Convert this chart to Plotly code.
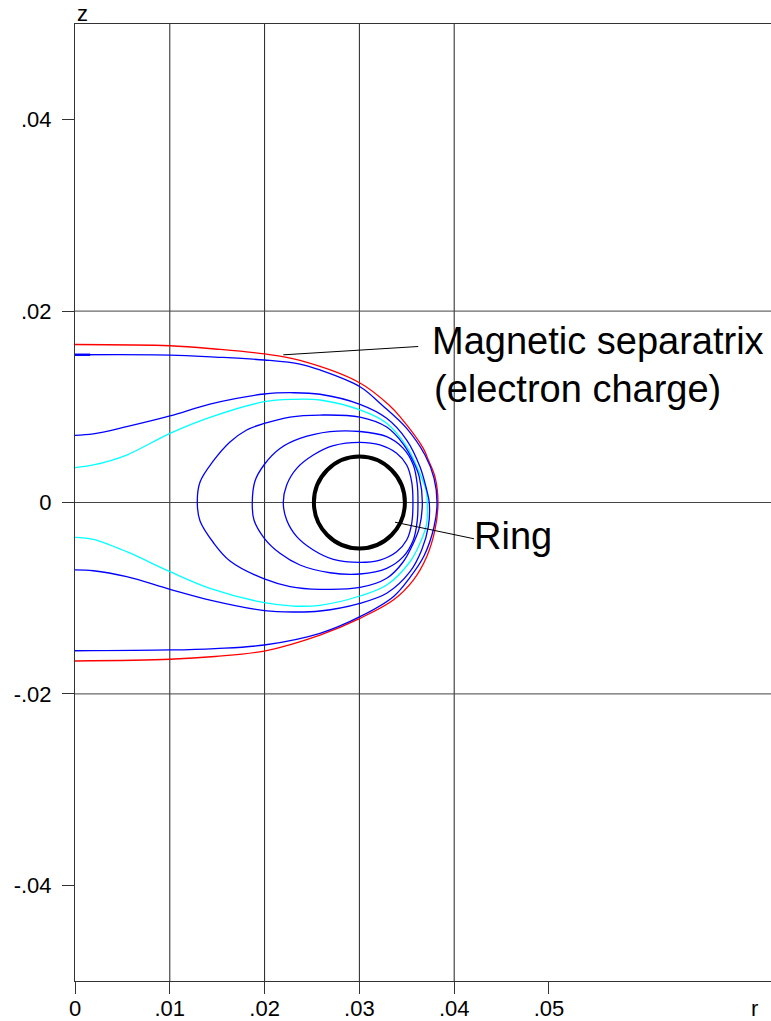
import plotly.graph_objects as go

# ---- flux lines around a current ring (r, z in metres) ----
# Magnetic separatrix (electron charge), red
sep_r = [0.0, 0.01002, 0.01477, 0.01997, 0.02373, 0.03006, 0.03312, 0.03428, 0.03674, 0.03727, 0.03797, 0.03829,
         0.03797, 0.0371, 0.03569, 0.03358, 0.03006, 0.02584, 0.01997, 0.01477, 0.01002, 0.0]
sep_z = [0.01651, 0.01638, 0.01604, 0.01552, 0.01484, 0.01249, 0.01019, 0.00897, 0.00566, 0.00444, 0.0027, 0.0,
         -0.00287, -0.00566, -0.0081, -0.01019, -0.0121, -0.01385, -0.01552, -0.01609, -0.01638, -0.01656]

# outer open field line, blue
outer_r = [0.0, 0.01002, 0.01477, 0.01997, 0.02373, 0.02584, 0.03006, 0.03238, 0.03499, 0.03692, 0.03787, 0.03819,
           0.03787, 0.03681, 0.03534, 0.03358, 0.03006, 0.02584, 0.01997, 0.01477, 0.01002, 0.0]
outer_z = [0.01544, 0.01541, 0.0152, 0.01489, 0.01447, 0.01385, 0.0121, 0.01019, 0.00775, 0.00496, 0.00256, 0.0,
           -0.00256, -0.00559, -0.00782, -0.00984, -0.01193, -0.01367, -0.01489, -0.01526, -0.01541, -0.01549]

# short heavier stroke where the outer line leaves the axis
outer_stub_r = [0.0, 0.0016]
outer_stub_z = [0.01544, 0.01544]

# middle open field line, blue
mid_r = [0.0, 0.00193, 0.00545, 0.01002, 0.01424, 0.01997, 0.02303, 0.02584, 0.03006, 0.03288, 0.03499, 0.03639,
         0.0371, 0.03737,
         0.03727, 0.03657, 0.03534, 0.03288, 0.03006, 0.02584, 0.02303, 0.01997, 0.01424, 0.01002, 0.00545,
         0.00193, 0.0]
mid_z = [0.00702, 0.00716, 0.00792, 0.00904, 0.01029, 0.01134, 0.01147, 0.01131, 0.01026, 0.0088, 0.00653, 0.00374,
         0.00131, 0.0,
         -0.00253, -0.00496, -0.00723, -0.00949, -0.01053, -0.01134, -0.01144, -0.01129, -0.01019, -0.00907,
         -0.00775, -0.00713, -0.00705]

# inner open field line, cyan
cyan_r = [0.0, 0.00193, 0.00545, 0.01002, 0.01424, 0.01997, 0.02303, 0.02584, 0.03006, 0.03288, 0.03499, 0.03621,
          0.03703, 0.03716,
          0.0371, 0.03639, 0.03534, 0.03288, 0.03006, 0.02584, 0.02303, 0.01997, 0.01424, 0.01002, 0.00545,
          0.00193, 0.0]
cyan_z = [0.00364, 0.00392, 0.00496, 0.00723, 0.0089, 0.01053, 0.01078, 0.01071, 0.00967, 0.00828, 0.00583, 0.0034,
          0.00131, 0.0,
          -0.00217, -0.00426, -0.00619, -0.00862, -0.00977, -0.01074, -0.01082, -0.01047, -0.00897, -0.00723,
          -0.00514, -0.00385, -0.00364]

# closed flux surfaces around the ring, blue (each starts and ends at its top)
loopA_r = [0.02584, 0.03006, 0.03288, 0.03463, 0.03569, 0.03632, 0.03664, 0.03632, 0.03569, 0.03463, 0.03288,
           0.03006, 0.02584, 0.02268, 0.01997, 0.01635, 0.01459, 0.01319, 0.0129, 0.01319, 0.01459, 0.01635,
           0.01811, 0.01997, 0.02268, 0.02584]
loopA_z = [0.00914, 0.00893, 0.00789, 0.00611, 0.00428, 0.00266, 0.0, -0.00266, -0.00426, -0.00619, -0.00792,
           -0.00888, -0.00907, -0.00878, -0.00799, -0.00611, -0.00418, -0.00193, 0.0, 0.00214, 0.00434, 0.00632,
           0.00758, 0.00826, 0.00893, 0.00914]

loopB_r = [0.03006, 0.03288, 0.03463, 0.03569, 0.03611, 0.03618, 0.03611, 0.03569, 0.03463, 0.03288, 0.03006,
           0.0269, 0.02373, 0.02162, 0.01997, 0.01888, 0.0187, 0.01899, 0.01997, 0.02162, 0.02373, 0.0269, 0.03006]
loopB_z = [0.00742, 0.00688, 0.00566, 0.00392, 0.00183, 0.0, -0.00183, -0.00392, -0.00566, -0.00688, -0.00747,
           -0.00734, -0.00653, -0.00531, -0.00374, -0.00183, 0.0, 0.00225, 0.00397, 0.00564, 0.00669, 0.0074,
           0.00742]

loopC_r = [0.03006, 0.03217, 0.03393, 0.03499, 0.03552, 0.03565, 0.03552, 0.03499, 0.03393, 0.03217, 0.03006,
           0.02725, 0.02514, 0.02339, 0.02233, 0.02197, 0.02233, 0.02339, 0.02514, 0.02725, 0.03006]
loopC_z = [0.00629, 0.00601, 0.00514, 0.00392, 0.00214, 0.0, -0.00217, -0.00392, -0.00514, -0.00601, -0.00625,
           -0.00594, -0.00496, -0.00357, -0.00183, 0.0, 0.00183, 0.00357, 0.00496, 0.00594, 0.00629]

# the ring itself (cross-section)
ring_center = (0.03, 0.0)
ring_radius = 0.0048

# axis ticks and grid
r_ticks = [0, 0.01, 0.02, 0.03, 0.04, 0.05]
r_tick_text = ["0", ".01", ".02", ".03", ".04", ".05"]
z_ticks = [-0.04, -0.02, 0, 0.02, 0.04]
z_tick_text = ["-.04", "-.02", "0", ".02", ".04"]
r_grid = [0.01, 0.02, 0.03, 0.04]
z_grid = [0.02, 0.0, -0.02]

# labels with leader lines
sep_label = ["Magnetic separatrix", "(electron charge)"]
sep_label_pos = [(0.03744, 0.01686), (0.03765, 0.01190)]
sep_leader = [(0.02197, 0.01543), (0.03621, 0.0163)]
ring_label = "Ring"
ring_label_pos = (0.04187, -0.00350)
ring_leader = [(0.03376, -0.00206), (0.04209, -0.00379)]

FONT = "Arial, Liberation Sans, sans-serif"

fig = go.Figure()

curves = [
    (sep_r, sep_z, "#ff0000", 1.3),
    (outer_r, outer_z, "#0000ff", 1.3),
    (outer_stub_r, outer_stub_z, "#0000ff", 2.4),
    (cyan_r, cyan_z, "#00ffff", 1.3),
    (mid_r, mid_z, "#0000ff", 1.3),
    (loopA_r, loopA_z, "#0000ff", 1.3),
    (loopB_r, loopB_z, "#0000ff", 1.3),
    (loopC_r, loopC_z, "#0000ff", 1.3),
]
for rr, zz, col, w in curves:
    fig.add_trace(go.Scatter(x=rr, y=zz, mode="lines",
                             line=dict(color=col, width=w, shape="spline", smoothing=1.0),
                             hoverinfo="skip"))

shapes = []
for g in r_grid:
    shapes.append(dict(type="line", xref="x", yref="paper", x0=g, x1=g, y0=0, y1=1,
                       line=dict(color="#222", width=1), layer="below"))
for g in z_grid:
    shapes.append(dict(type="line", xref="paper", yref="y", x0=0, x1=1, y0=g, y1=g,
                       line=dict(color="#444", width=1), layer="below"))

cr, cz = ring_center
shapes.append(dict(type="circle", xref="x", yref="y",
                   x0=cr - ring_radius, x1=cr + ring_radius,
                   y0=cz - ring_radius, y1=cz + ring_radius,
                   line=dict(color="black", width=4)))

for (x0, y0), (x1, y1) in [sep_leader, ring_leader]:
    shapes.append(dict(type="line", xref="x", yref="y", x0=x0, y0=y0, x1=x1, y1=y1,
                       line=dict(color="black", width=1)))

annotations = []
for txt, (ax, ay) in zip(sep_label, sep_label_pos):
    annotations.append(dict(text=txt, x=ax, y=ay, xref="x", yref="y", xanchor="left", yanchor="middle",
                            showarrow=False, font=dict(family=FONT, size=38, color="black")))
annotations.append(dict(text=ring_label, x=ring_label_pos[0], y=ring_label_pos[1], xref="x", yref="y",
                        xanchor="left", yanchor="middle", showarrow=False,
                        font=dict(family=FONT, size=38, color="black")))
annotations.append(dict(text="z", x=0, y=1, xref="paper", yref="paper", xanchor="left", yanchor="middle",
                        yshift=11, showarrow=False, font=dict(family=FONT, size=22, color="black")))
annotations.append(dict(text="r", x=0.977, y=0, xref="paper", yref="paper", xanchor="center",
                        yanchor="middle", yshift=-27, showarrow=False,
                        font=dict(family=FONT, size=22, color="black")))

axis_common = dict(showgrid=False, zeroline=False, showline=True, linecolor="#333", linewidth=1,
                   ticks="outside", ticklen=12, tickcolor="#333", tickwidth=1, automargin=False,
                   tickfont=dict(family=FONT, size=22, color="black"))

fig.update_layout(
    width=771, height=1021,
    margin=dict(l=75, r=0, t=24, b=40),
    paper_bgcolor="white", plot_bgcolor="white",
    showlegend=False,
    shapes=shapes, annotations=annotations,
    xaxis=dict(range=[0, 0.07342], tickvals=r_ticks, ticktext=r_tick_text, mirror=True,
               ticklabelstandoff=-4, **axis_common),
    yaxis=dict(range=[-0.05, 0.05], tickvals=z_ticks, ticktext=z_tick_text, ticklabelstandoff=6,
               **axis_common),
)

fig.write_html("out.html")
